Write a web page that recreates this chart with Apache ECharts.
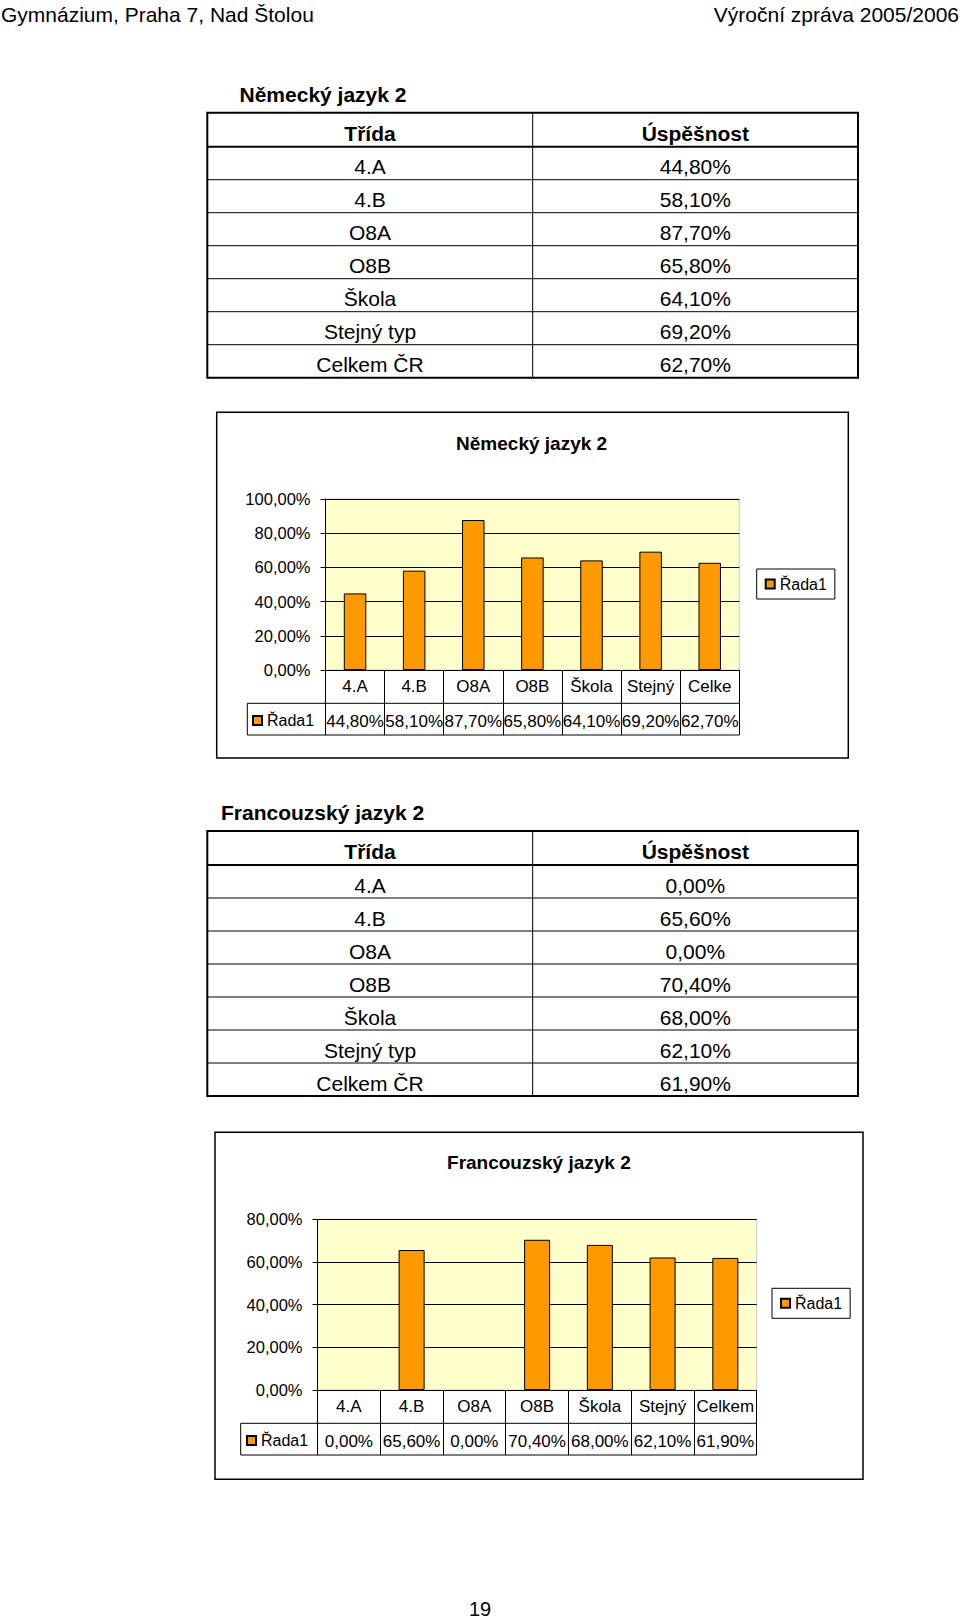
<!DOCTYPE html>
<html>
<head>
<meta charset="utf-8">
<script src="https://cdn.jsdelivr.net/npm/echarts@6/dist/echarts.min.js"></script>
<style>
html,body{margin:0;padding:0;background:#fff;}
#c{width:960px;height:1619px;}
</style>
</head>
<body>
<div id="c"></div>
<script>
// ---------- data ----------
const headerLeft = 'Gymnázium, Praha 7, Nad Štolou';
const headerRight = 'Výroční zpráva 2005/2006';
const pageNumber = '19';
const tableHeaders = ['Třída', 'Úspěšnost'];
const categories = ['4.A', '4.B', 'O8A', 'O8B', 'Škola', 'Stejný typ', 'Celkem ČR'];
const deTitle = 'Německý jazyk 2';
const frTitle = 'Francouzský jazyk 2';
const deAxisLabels = ['4.A', '4.B', 'O8A', 'O8B', 'Škola', 'Stejný', 'Celke'];
const frAxisLabels = ['4.A', '4.B', 'O8A', 'O8B', 'Škola', 'Stejný', 'Celkem'];
const deValues = [44.8, 58.1, 87.7, 65.8, 64.1, 69.2, 62.7];
const frValues = [0.0, 65.6, 0.0, 70.4, 68.0, 62.1, 61.9];
const deYTicks = [0, 20, 40, 60, 80, 100];
const frYTicks = [0, 20, 40, 60, 80];
const seriesName = 'Řada1';

// ---------- helpers ----------
const FONT = "'Liberation Sans', Arial, Helvetica, sans-serif";
const fmt = v => Number(v).toFixed(2).replace('.', ',') + '%';

function txt(text, x, y, size, bold, align) {
  return {
    type: 'text', x: x, y: y, z: 100,
    style: {
      text: text, fill: '#000',
      font: (bold ? 'bold ' : '') + size + 'px ' + FONT,
      textAlign: align || 'center', textVerticalAlign: 'middle'
    }
  };
}
function line(x1, y1, x2, y2, w) {
  return { type: 'line', z: 100, shape: { x1, y1, x2, y2 }, style: { stroke: '#000', lineWidth: w || 1 } };
}
function rect(x, y, w, h, lw) {
  return { type: 'rect', z: 100, shape: { x, y, width: w, height: h }, style: { fill: 'none', stroke: '#000', lineWidth: lw } };
}

// ---------- layout ----------
const tables = [
  { title: deTitle, titleX: 239.5, titleY: 94, x0: 207.3, x1: 858, xDiv: 532.7, top: 112.7, hb: 146.7, rowH: 33, values: deValues },
  { title: frTitle, titleX: 221, titleY: 812.4, x0: 207.3, x1: 858, xDiv: 532.7, top: 831, hb: 865, rowH: 33, values: frValues }
];

const charts = [
  { title: deTitle, labels: deAxisLabels, values: deValues, ticks: deYTicks,
    box: [216.7, 412.3, 848.3, 758], gl: 325.5, gt: 499, gw: 413.8, gh: 171,
    rowBot1: 703.3, rowBot2: 735, tableLeft: 247.3, titleX: 531.6, titleY: 443.9,
    legendLeft: 756.7, legendTop: 569, keyLeft: 252, keyTop: 705.5, barWidth: 22.5 },
  { title: frTitle, labels: frAxisLabels, values: frValues, ticks: frYTicks,
    box: [215, 1132.3, 863, 1479.3], gl: 317.5, gt: 1219.3, gw: 439.2, gh: 170.7,
    rowBot1: 1423.3, rowBot2: 1455, tableLeft: 240.7, titleX: 538.9, titleY: 1162.4,
    legendLeft: 772, legendTop: 1288.3, keyLeft: 246, keyTop: 1425.5, barWidth: 26 }
];

const graphics = [];
graphics.push(txt(headerLeft, 1, 14, 21, false, 'left'));
graphics.push(txt(headerRight, 959, 14, 21, false, 'right'));
graphics.push(txt(pageNumber, 480, 1609, 20, false, 'center'));

tables.forEach(t => {
  graphics.push(txt(t.title, t.titleX, t.titleY, 21, true, 'left'));
  const n = categories.length;
  const bottom = t.hb + n * t.rowH;
  graphics.push(rect(t.x0, t.top, t.x1 - t.x0, bottom - t.top, 2));
  graphics.push(line(t.x0, t.hb, t.x1, t.hb, 2));
  graphics.push(line(t.xDiv, t.top, t.xDiv, bottom, 1));
  const c1 = (t.x0 + t.xDiv) / 2, c2 = (t.xDiv + t.x1) / 2;
  graphics.push(txt(tableHeaders[0], c1, (t.top + t.hb) / 2 + 3.5, 21, true));
  graphics.push(txt(tableHeaders[1], c2, (t.top + t.hb) / 2 + 3.5, 21, true));
  categories.forEach((cat, i) => {
    const y0 = t.hb + i * t.rowH;
    if (i > 0) graphics.push(line(t.x0, y0, t.x1, y0, 1));
    graphics.push(txt(cat, c1, y0 + t.rowH / 2 + 3.5, 21, false));
    graphics.push(txt(fmt(t.values[i]), c2, y0 + t.rowH / 2 + 3.5, 21, false));
  });
});

const grid = [], xAxis = [], yAxis = [], series = [], legend = [];
charts.forEach((c, i) => {
  const [bx0, by0, bx1, by1] = c.box;
  graphics.push(rect(bx0, by0, bx1 - bx0, by1 - by0, 1.5));
  graphics.push(txt(c.title, c.titleX, c.titleY, 19, true, 'center'));
  const gr = c.gl + c.gw, gb = c.gt + c.gh;
  graphics.push(line(c.tableLeft, c.rowBot1, gr, c.rowBot1, 1));
  graphics.push(line(c.tableLeft, c.rowBot2, gr, c.rowBot2, 1));
  graphics.push(line(c.tableLeft, c.rowBot1, c.tableLeft, c.rowBot2, 1));
  const tickLen = c.rowBot2 - gb;

  grid.push({ left: c.gl, top: c.gt, width: c.gw, height: c.gh, show: true,
    backgroundColor: '#FFFFCC', borderColor: '#c8c8c8', borderWidth: 1 });
  xAxis.push({
    type: 'category', gridIndex: i, data: c.labels, boundaryGap: true,
    axisLine: { show: true, lineStyle: { color: '#000', width: 1 } },
    axisTick: { show: true, interval: 0, length: tickLen, lineStyle: { color: '#000', width: 1 } },
    axisLabel: { interval: 0, margin: -1.5, color: '#000', fontFamily: FONT, fontSize: 17,
      lineHeight: 35,
      formatter: (v, idx) => v + '\n' + fmt(c.values[idx]) },
    splitLine: { show: false }
  });
  yAxis.push({
    type: 'value', gridIndex: i,
    min: c.ticks[0], max: c.ticks[c.ticks.length - 1], interval: c.ticks[1] - c.ticks[0],
    axisLine: { show: true, lineStyle: { color: '#000', width: 1 } },
    axisTick: { show: true, length: 5, lineStyle: { color: '#000' } },
    axisLabel: { margin: 15, color: '#000', fontFamily: FONT, fontSize: 16.5, formatter: v => fmt(v) },
    splitLine: { show: true, lineStyle: { color: '#000', width: 1 } }
  });
  series.push({
    type: 'bar', name: seriesName, xAxisIndex: i, yAxisIndex: i,
    data: c.values.map(v => v === 0 ? { value: v, itemStyle: { borderWidth: 0 } } : v),
    barWidth: c.barWidth, silent: true,
    itemStyle: { color: '#FF9900', borderColor: '#000', borderWidth: 1 }
  });
  legend.push({
    data: [seriesName], left: c.legendLeft, top: c.legendTop, icon: 'rect',
    itemWidth: 9, itemHeight: 9, padding: [6, 8, 6, 8],
    borderColor: '#000', borderWidth: 1, backgroundColor: '#fff', selectedMode: false,
    textStyle: { color: '#000', fontFamily: FONT, fontSize: 16, lineHeight: 18 }
  });
  legend.push({
    data: [seriesName], left: c.keyLeft, top: c.keyTop, icon: 'rect',
    itemWidth: 9, itemHeight: 9, padding: [6, 0, 6, 0], selectedMode: false,
    textStyle: { color: '#000', fontFamily: FONT, fontSize: 16, lineHeight: 18 }
  });
});

const chart = echarts.init(document.getElementById('c'), null, { renderer: 'svg', width: 960, height: 1619 });
chart.setOption({
  animation: false,
  backgroundColor: '#fff',
  grid, xAxis, yAxis, series, legend,
  graphic: { elements: graphics }
});
</script>
</body>
</html>
